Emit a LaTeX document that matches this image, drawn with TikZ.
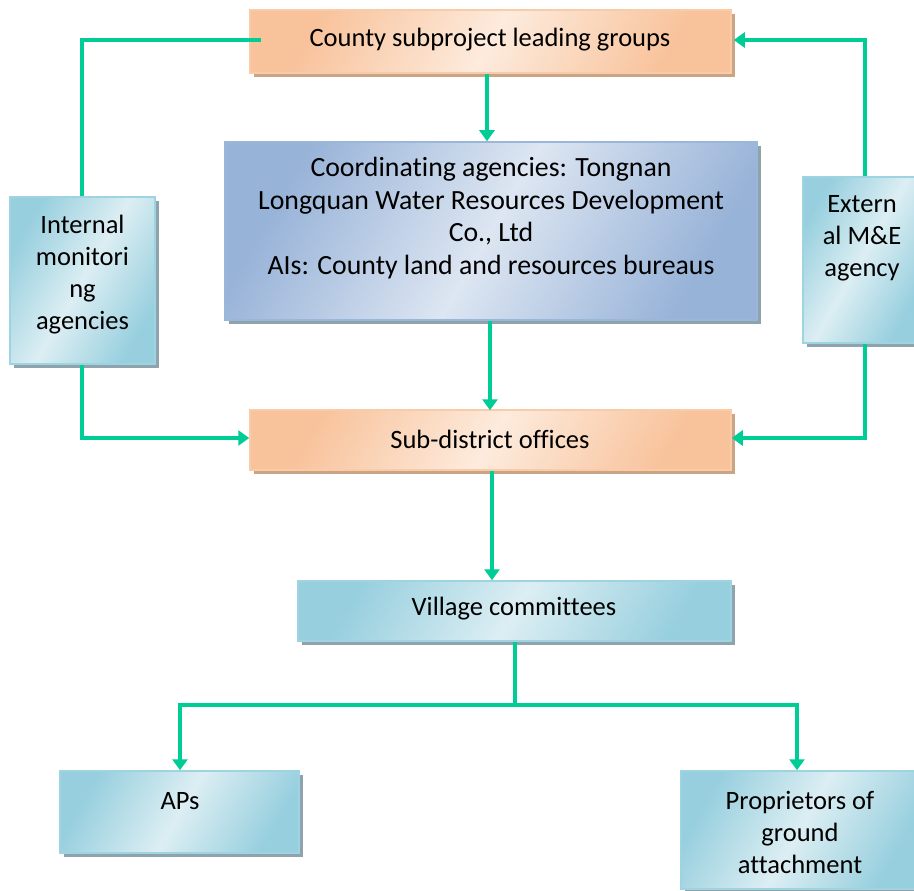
\documentclass[tikz,border=0pt]{standalone}
\usepackage{fontspec}
\setmainfont{Carlito}[Ligatures={NoCommon,NoContextual}]
\usetikzlibrary{shadows,arrows.meta}
\definecolor{grn}{HTML}{00CC96}
\definecolor{orD}{HTML}{F8C29A}
\definecolor{orL}{HTML}{FDEBDD}
\definecolor{orB}{HTML}{F9CBA8}
\definecolor{orS}{HTML}{C9A485}
\definecolor{blD}{HTML}{98B3D8}
\definecolor{blL}{HTML}{DDE6F2}
\definecolor{blB}{HTML}{9AB6DA}
\definecolor{tlD}{HTML}{97CFDE}
\definecolor{tlL}{HTML}{DCEEF3}
\definecolor{tlB}{HTML}{9ED4E1}
\definecolor{gS}{HTML}{8FA3AD}
\tikzset{
  boxbase/.style={rectangle, inner sep=0pt, line width=1.5pt},
  obox/.style={boxbase, draw=orB, top color=orD, bottom color=orD, middle color=orL, shading angle=60,
     drop shadow={shadow xshift=4pt, shadow yshift=-4pt, fill=orS, opacity=1}},
  bbox/.style={boxbase, draw=blB, top color=blD, bottom color=blD, middle color=blL, shading angle=60,
     drop shadow={shadow xshift=4pt, shadow yshift=-4pt, fill=gS, opacity=1}},
  tbox/.style={boxbase, draw=tlB, top color=tlD, bottom color=tlD, middle color=tlL, shading angle=60,
     drop shadow={shadow xshift=4pt, shadow yshift=-4pt, fill=gS, opacity=1}},
  txt/.style={align=center, inner sep=0pt, font=\fontsize{26.5}{32}\selectfont},
  bigtxt/.style={align=center, inner sep=0pt, font=\fontsize{27.8}{32.5}\selectfont},
  conn/.style={draw=grn, line width=4pt},
  arr/.style={conn, -{Triangle[width=15pt,length=11pt]}},
}
\begin{document}
\begin{tikzpicture}[x=1pt,y=-1pt]
\useasboundingbox (0,0) rectangle (914,891);
% boxes
\node[obox, minimum width=481pt, minimum height=63pt] (county) at (490.5,41.5) {};
\node[txt] (countyt) at (490,40) {County subproject leading groups};
\node[bbox, minimum width=532pt, minimum height=178pt] (coord) at (491,231) {};
\node[bigtxt] (coordt) at (491,218) {Coordinating agencies: Tongnan\\Longquan Water Resources Development\\Co., Ltd\\AIs: County land and resources bureaus};
\node[tbox, minimum width=145pt, minimum height=167pt] (internal) at (82.5,280.5) {};
\node[txt] (internalt) at (82.5,275) {Internal\\monitori\\ng\\agencies};
\node[tbox, minimum width=115pt, minimum height=166pt] (external) at (860.5,260) {};
\node[txt] (externalt) at (862,238) {Extern\\al M\&E\\agency};
\node[obox, minimum width=481pt, minimum height=60pt] (sub) at (490.5,440) {};
\node[txt] (subt) at (490,439) {Sub-district offices};
\node[tbox, minimum width=433pt, minimum height=60pt] (village) at (514.5,611) {};
\node[txt] (villaget) at (514,609) {Village committees};
\node[tbox, minimum width=239pt, minimum height=82pt] (aps) at (179.5,812) {};
\node[txt] (apst) at (180,801) {APs};
\node[tbox, minimum width=236pt, minimum height=118pt] (prop) at (799,830) {};
\node[txt] (propt) at (800,832) {Proprietors of\\ground\\attachment};
% coordinates
\coordinate (tl) at (82,40);
\coordinate (tr) at (865,40);
\coordinate (bl) at (82,438);
\coordinate (br) at (865,438);
\coordinate (vb) at (515,705);
\coordinate (hl) at (180,705);
\coordinate (hr) at (797,705);
% connectors
\draw[arr] (county.south -| 487,0) -- (coord.north -| 487,0);
\draw[arr] (coord.south -| 490,0) -- ([yshift=-1pt]sub.north -| 490,0);
\draw[conn] (internal.north -| tl) -- (tl) -- ([xshift=12pt]county.west |- tl);
\draw[arr] (external.north -| tr) -- (tr) -- ([xshift=2pt]county.east |- tr);
\draw[arr] (internal.south -| bl) -- (bl) -- (sub.west |- bl);
\draw[arr] (external.south -| br) -- (br) -- (sub.east |- br);
\draw[arr] (sub.south -| 492,0) -- (village.north -| 492,0);
\draw[conn] (village.south -| vb) -- (vb);
\draw[conn] ([xshift=-2pt]hl) -- ([xshift=2pt]hr);
\draw[arr] ([yshift=-2pt]hl) -- (aps.north -| hl);
\draw[arr] ([yshift=-2pt]hr) -- (prop.north -| hr);
\end{tikzpicture}
\end{document}
